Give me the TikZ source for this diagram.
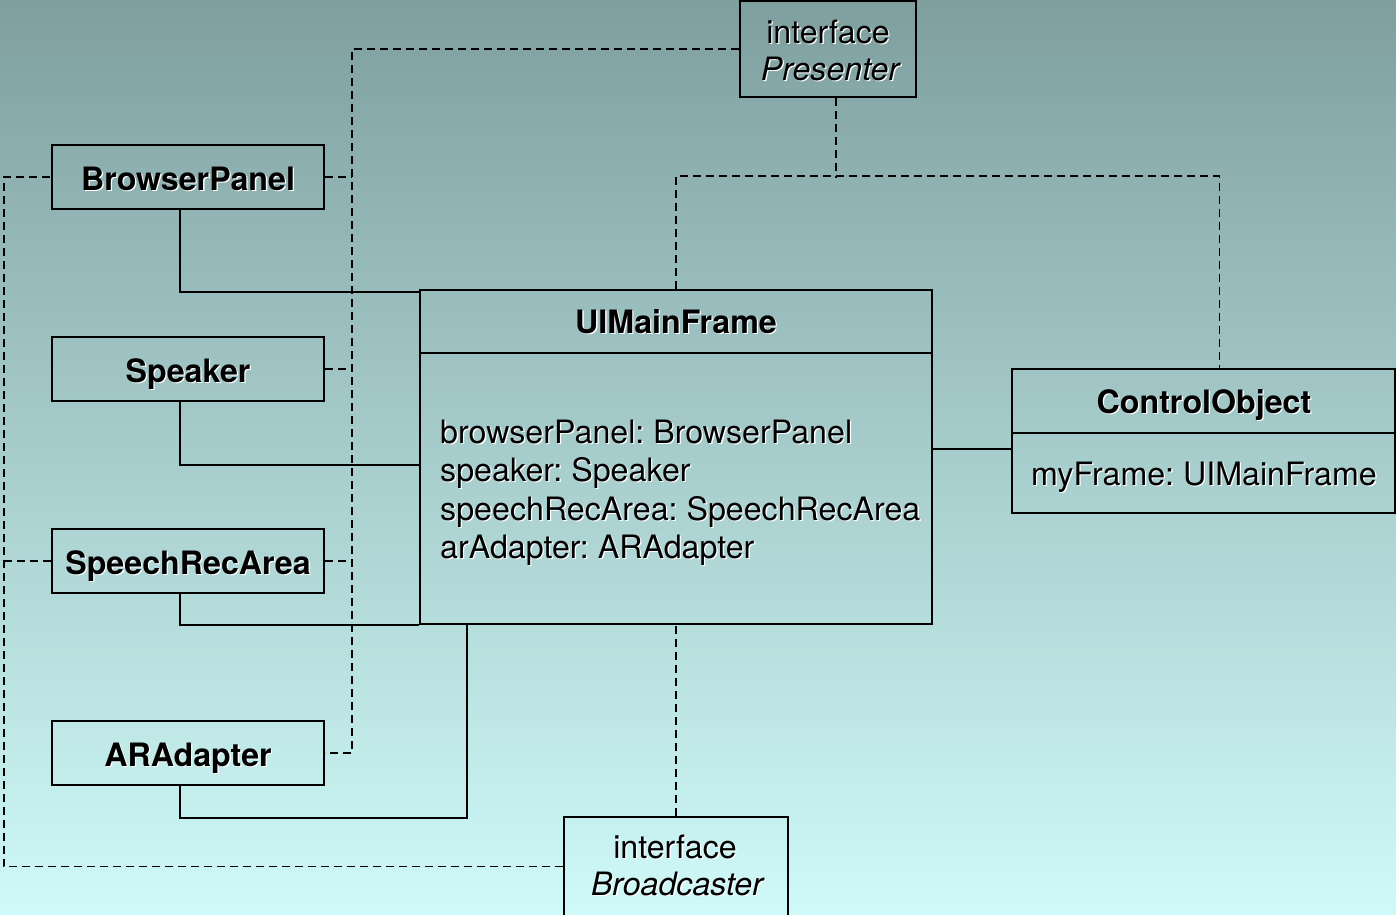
\documentclass[tikz,border=0pt]{standalone}
\usepackage{fontspec}
\setmainfont{TeX Gyre Heros}
\usetikzlibrary{calc}
\definecolor{bgtop}{RGB}{127,159,159}
\definecolor{bgbot}{RGB}{207,250,249}
\newcommand\shd[1]{\leavevmode\rlap{\kern1.3pt\raisebox{-1.3pt}{\color{white}#1}}#1}
\tikzset{
  box/.style={draw, line width=2pt, inner sep=0pt, minimum width=#1},
  txt/.style={inner sep=0pt, anchor=base, font=\fontsize{32.2}{38}\selectfont\frenchspacing},
  btxt/.style={txt, font=\fontsize{32.2}{38}\selectfont\bfseries},
  itxt/.style={txt, font=\fontsize{32.2}{38}\selectfont\itshape},
  solidc/.style={line width=2pt},
  dashc/.style={line width=1.9pt, dash pattern=on 8pt off 5pt},
}
\begin{document}
\begin{tikzpicture}[x=1pt,y=-1pt]
\useasboundingbox (0,0) rectangle (1396,914);
\shade[top color=bgtop, bottom color=bgbot] (0,0) rectangle (1396,914);
% boxes
\node[box=176pt, minimum height=96pt] (pr) at (828,49) {};
\node[box=224pt, minimum height=99pt] (bc) at (676,866.5) {};
\node[box=272pt, minimum height=64pt] (bp) at (188,177) {};
\node[box=272pt, minimum height=64pt] (sp) at (188,369) {};
\node[box=272pt, minimum height=64pt] (sr) at (188,561) {};
\node[box=272pt, minimum height=64pt] (ar) at (188,753) {};
\node[box=512pt, minimum height=334pt] (main) at (676,457) {};
\draw[line width=2pt] (main.north west |- 0,353) -- (main.north east |- 0,353);
\node[box=383pt, minimum height=144pt] (co) at (1203.5,441) {};
\draw[line width=2pt] (co.north west |- 0,433) -- (co.north east |- 0,433);
% texts
\node[txt] (prt1) at (828,43) {\shd{interface}};
\node[itxt] (prt2) at (830,80) {\shd{Presenter}};
\node[txt] (bct1) at (675,858) {\shd{interface}};
\node[itxt] (bct2) at (677,895) {\shd{Broadcaster}};
\node[btxt] (bpt) at (188,190) {\shd{BrowserPanel}};
\node[btxt] (spt) at (188,382) {\shd{Speaker}};
\node[btxt] (srt) at (188,574) {\shd{SpeechRecArea}};
\node[btxt] (art) at (188,766) {\shd{ARAdapter}};
\node[btxt] (mt) at (676,333) {\shd{UIMainFrame}};
\node[txt, anchor=base west] (m1) at (440,443) {\shd{browserPanel: BrowserPanel}};
\node[txt, anchor=base west] (m2) at (440,481) {\shd{speaker: Speaker}};
\node[txt, anchor=base west] (m3) at (440,520) {\shd{speechRecArea: SpeechRecArea}};
\node[txt, anchor=base west] (m4) at (440,558) {\shd{arAdapter: ARAdapter}};
\node[btxt] (cot) at (1204,413) {\shd{ControlObject}};
\node[txt] (coa) at (1204,485) {\shd{myFrame: UIMainFrame}};
% solid connectors
\draw[solidc] ($(bp.south)+(-8,0)$) |- ($(main.north west)+(0,3)$);
\draw[solidc] ($(sp.south)+(-8,0)$) |- ($(main.west)+(0,8)$);
\draw[solidc] ($(sr.south)+(-8,0)$) |- (main.south west);
\draw[solidc] ($(ar.south)+(-8,0)$) -- ++(0,32) -| ($(main.south west)+(48,0)$);
\draw[solidc] ($(main.east)+(0,-8)$) -- ($(co.west)+(0,8)$);
% dashed connectors
\coordinate (pv) at ($(ar.east)+(27,0)$);
\draw[dashc] (pr.west) -| (pv) -- (ar.east);
\draw[dashc] (bp.east) -- (bp.east -| pv);
\draw[dashc] (sp.east) -- (sp.east -| pv);
\draw[dashc] (sr.east) -- (sr.east -| pv);
\draw[dashc] ($(pr.south)+(8,0)$) -- ++(0,80);
\draw[dashc] (main.north) -- ++(0,-113) -| ($(co.north)+(16,0)$);
\coordinate (lft) at (4,177);
\draw[dashc] (bc.west) -| (lft) -- (bp.west);
\draw[dashc] (sr.west) -- (sr.west -| lft);
\draw[dashc] (bc.north) -- (main.south);
\end{tikzpicture}
\end{document}
